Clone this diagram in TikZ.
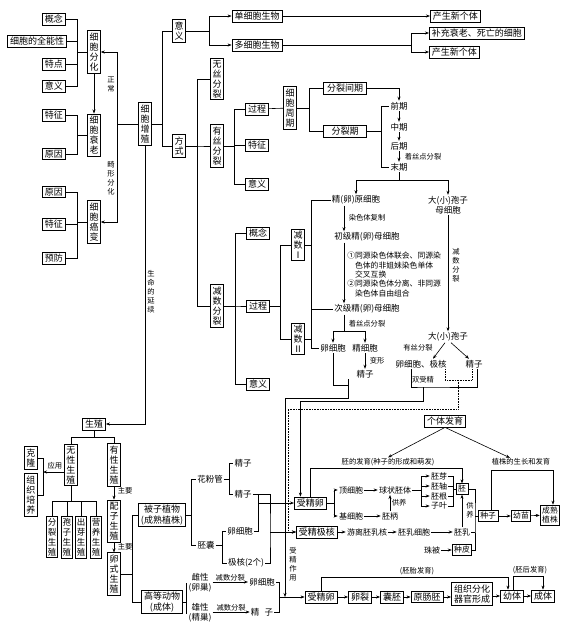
\documentclass[tikz,border=0pt]{standalone}
\usepackage{fontspec}
\setmainfont{Noto Sans CJK SC}
\usetikzlibrary{arrows.meta,calc}
\tikzset{
 >={Stealth[length=4pt,width=3pt]},
 bx/.style={draw, line width=0.8pt, fill=white, inner xsep=2.5pt, inner ysep=1.8pt, font=\fontsize{9}{10.5}\selectfont},
 sbx/.style={bx, inner xsep=2pt, font=\fontsize{7.8}{9}\selectfont},
 vb/.style={bx, align=center, inner xsep=1.8pt, inner ysep=2pt, font=\fontsize{9}{10}\selectfont},
 svb/.style={vb, inner xsep=1.3pt, font=\fontsize{8.5}{10}\selectfont},
 tx/.style={inner sep=1pt, font=\fontsize{8.5}{10}\selectfont},
 stx/.style={inner sep=1pt, font=\fontsize{8}{9.5}\selectfont},
 lb/.style={inner sep=0.5pt, font=\fontsize{7.3}{8.5}\selectfont},
 vl/.style={lb, align=center, font=\fontsize{7.3}{9}\selectfont},
}
\begin{document}
\begin{tikzpicture}[x=1pt,y=-1pt,line width=0.6pt]
\fill[white] (0,0) rectangle (573,625);
\useasboundingbox (0,0) rectangle (573,625);

% ---------- left column ----------
\node[bx] (gn1) at (54,19) {概念};
\node[bx] (qn) at (37,41) {细胞的全能性};
\node[bx] (td) at (54,64) {特点};
\node[bx] (yy1) at (54,86) {意义};
\node[vb] (fh) at (94,52) {细\\胞\\分\\化};
\node[bx] (tz1) at (54,115) {特征};
\node[bx] (yn1) at (54,154) {原因};
\node[vb] (sl) at (94,135) {细\\胞\\衰\\老};
\node[bx] (yn2) at (54,192) {原因};
\node[bx] (tz2) at (54,224) {特征};
\node[bx] (yf) at (54,258) {预防};
\node[vb] (ab) at (94,222) {细\\胞\\癌\\变};
\node[vb] (zz) at (145,124) {细\\胞\\增\\殖};

\foreach \c in {gn1,qn,td,yy1} \draw (fh.west) -- ++(-10,0) |- (\c.east);
\foreach \c in {tz1,yn1} \draw (sl.west) -- ++(-10,0) |- (\c.east);
\foreach \c in {yn2,tz2,yf} \draw (ab.west) -- ++(-10,0) |- (\c.east);
\draw[->] (fh) -- (sl);
\draw[->] (zz.west) -- ++(-21,0) |- (fh.east);
\draw[->] (zz.west) -- ++(-21,0) |- (ab.east);
\node[vl] at (111,84) {正\\常};
\node[vl] at (111,178) {畸\\形\\分\\化};

\node[bx] (sz) at (94,424) {生殖};
\draw[->] (zz.south) |- (sz.east);
\node[vl] at (151,292) {生\\命\\的\\延\\续};

% ---------- top ----------
\node[vb] (yy) at (179,31) {意\\义};
\node[vb] (fs) at (179,146) {方\\式};
\draw (zz.east) -- ++(11,0) |- (yy.west);
\draw (zz.east) -- ++(11,0) |- (fs.west);
\node[bx] (dx) at (257,16) {单细胞生物};
\node[bx] (dd) at (257,45) {多细胞生物};
\draw[->] (yy.east) -- ++(24,0) |- (dx.west);
\draw[->] (yy.east) -- ++(24,0) |- (dd.west);
\node[bx,anchor=west] (xg1) at (430,16) {产生新个体};
\node[bx,anchor=west] (bc) at (429,33) {补充衰老、死亡的细胞};
\node[bx,anchor=west] (xg2) at (429,52) {产生新个体};
\draw[->] (dx) -- (xg1);
\draw[->] (dd.east) -- ++(129,0) |- (bc.west);
\draw[->] (dd.east) -- ++(129,0) |- (xg2.west);

% ---------- mitosis ----------
\node[vb] (ws) at (217,79) {无\\丝\\分\\裂};
\node[vb] (ys) at (217,146) {有\\丝\\分\\裂};
\node[vb] (js) at (217,306) {减\\数\\分\\裂};
\foreach \c in {ws,ys,js} \draw (fs.east) -- ++(12,0) |- (\c.west);
\node[bx] (gc) at (257,109) {过程};
\node[bx] (tz) at (257,145) {特征};
\node[bx] (yi) at (257,184) {意义};
\foreach \c in {gc,tz,yi} \draw (ys.east) -- ++(11,0) |- (\c.west);
\node[vb] (zq) at (290,108) {细\\胞\\周\\期};
\draw (gc) -- (zq);
\node[bx,minimum width=43pt] (jq) at (345,88) {分裂间期};
\node[bx,minimum width=43pt] (lq) at (345,131) {分裂期};
\foreach \c in {jq,lq} \draw (zq.east) -- ++(13,0) |- (\c.west);
\node[tx] (qq) at (399,106) {前期};
\node[tx] (zh) at (399,127) {中期};
\node[tx] (hq) at (399,146) {后期};
\node[tx] (mq) at (399,167) {末期};
\draw[->] (jq.east) -| (qq.north);
\draw (lq.east) -- ++(14,0) |- (qq.west);
\draw (lq.east) -- ++(14,0) |- (mq.west);
\draw[->] (qq) -- (zh);
\draw[->] (zh) -- (hq);
\draw[->] (hq) -- (mq) node[midway,right=5pt,lb] {着丝点分裂};
\node[tx] (jy) at (356,200) {精(卵)原细胞};
\node[tx,align=center] (dm) at (448,205) {大(小)孢子\\母细胞};
\draw[->] (mq.south) -- ++(0,8) -| (jy.north);
\draw[->] (mq.south) -- ++(0,8) -| (dm.north);

% ---------- meiosis ----------
\node[bx] (gn) at (258,233) {概念};
\node[bx] (gcc) at (258,306) {过程};
\node[bx] (yyy) at (258,384) {意义};
\foreach \c in {gn,gcc,yyy} \draw (js.east) -- ++(12,0) |- (\c.west);
\node[vb] (j1) at (298,245) {减\\数\\Ⅰ};
\node[vb] (j2) at (298,339) {减\\数\\Ⅱ};
\foreach \c in {j1,j2} \draw (gcc.east) -- ++(10,0) |- (\c.west);
\node[tx] (cj) at (367,237) {初级精(卵)母细胞};
\node[tx] (cs) at (367,309) {次级精(卵)母细胞};
\draw (j1.east) -- ++(7,0) |- (jy.west);
\draw (j1.east) -- ++(7,0) |- (cs.west);
\node[tx] (ld) at (333,348) {卵细胞};
\node[tx] (jx) at (365,348) {精细胞};
\draw (j2.east) -- ++(7,0) |- (cs.west);
\draw (j2.east) -- ++(7,0) |- (ld.west);

\path ([xshift=-12pt]jy.south) coordinate (a1);
\draw[->] (a1) -- (a1 |- cj.north);
\node[lb,anchor=west] at (348,218) {染色体复制};
\path ([xshift=-23pt]cj.south) coordinate (a2);
\draw[->] (a2) -- (a2 |- cs.north);
\node[anchor=north west,align=left,inner sep=0pt,font=\fontsize{7.8}{9.3}\selectfont] (bk) at (347,252)
 {①同源染色体联会、同源染\\\phantom{①}色体的非姐妹染色单体\\\phantom{①}交叉互换\\②同源染色体分离、非同源\\\phantom{②}染色体自由组合};
\path ([xshift=-23pt]cs.south) coordinate (a3);
\draw (a3) -- ++(0,17) coordinate (m2);
\draw[->] (m2) -| (ld.north);
\draw[->] (m2) -| (jx.north);
\node[lb,anchor=west] at (348,324) {着丝点分裂};
\node[tx] (jz) at (365,374) {精子};
\draw[->] (jx) -- (jz);
\node[lb,anchor=west] at (369,361) {变形};
\coordinate (ja) at (348,385);
\draw (ld.south) |- (ja);
\draw (jz.south -| ja) -- (ja);
\coordinate (sa) at (285,597);
\draw[->] (ja) -- ++(0,13) -| (sa);

% ---------- plant meiosis ----------
\node[tx] (bz) at (448,337) {大(小)孢子};
\draw[->] (dm) -- (bz);
\node[vl] at (456,265) {减\\数\\分\\裂};
\node[tx] (lj) at (421,364) {卵细胞、极核};
\node[tx] (jp) at (474,364) {精子};
\draw[->] ([xshift=-3pt]bz.south) -- ([xshift=12pt]lj.north);
\draw[->] ([xshift=3pt]bz.south) -- ([xshift=-5pt]jp.north);
\node[lb] at (418,348) {有丝分裂};
\node[lb] at (423,380) {双受精};
\coordinate (sb) at (423,387);
\draw ([xshift=-10pt]lj.south) |- (sb) -| ([xshift=3pt]jp.south);
\coordinate (dj) at (458,380);
\draw[densely dotted] ([xshift=24pt]lj.south) |- (dj) -| ([xshift=-2pt]jp.south);

% ---------- individual development ----------
\node[bx] (gt) at (445,421) {个体发育};
\node[lb] (pl1) at (388,462) {胚的发育(种子的形成和萌发)};
\node[lb] (pl2) at (521,462) {植株的生长和发育};
\draw[->] (gt.south) -- (pl1.north);
\draw[->] (gt.south) -- ([xshift=-11pt]pl2.north);

% ---------- reproduction ----------
\node[vb] (wx) at (71,465) {无\\性\\生\\殖};
\node[vb] (yx) at (114,465) {有\\性\\生\\殖};
\draw (sz.south) -- ++(0,7) -| (wx.north);
\draw (sz.south) -- ++(0,7) -| (yx.north);
\node[vb] (kl) at (31,458) {克\\隆};
\node[vb] (zpy) at (31,495) {组\\织\\培\\养};
\coordinate (kb) at (43,472);
\draw (kl.east) -| (kb);
\draw (zpy.east) -| (kb);
\draw[->] ([yshift=-7pt]wx.west) -- (kb);
\node[lb] at (55,466) {应用};
\node[svb] (f1) at (52,537) {分\\裂\\生\\殖};
\node[svb] (f2) at (67,537) {孢\\子\\生\\殖};
\node[svb] (f3) at (81,537) {出\\芽\\生\\殖};
\node[svb] (f4) at (96,537) {营\\养\\生\\殖};
\foreach \c in {f1,f2,f3,f4} \draw (wx.south) -- ++(0,15) -| (\c.north);
\node[vb] (pz3) at (114,521) {配\\子\\生\\殖};
\node[vb] (ls) at (114,574) {卵\\式\\生\\殖};
\draw[->] (yx) -- (pz3);
\draw[->] (pz3) -- (ls);
\node[lb,anchor=west] at (117,491) {主要};
\node[lb,anchor=west] at (117,547) {主要};

\node[bx,align=center] (bz2) at (162,515) {被子植物\\(成熟植株)};
\node[bx,align=center] (gd) at (162,602) {高等动物\\(成体)};
\draw (ls.east) -- ++(12,0) |- (bz2.west);
\draw (ls.east) -- ++(12,0) |- (gd.west);

% plant fertilisation
\node[tx] (hf) at (210,479) {花粉管};
\node[tx] (pn) at (206,545) {胚囊};
\draw (bz2.east) -- ++(5,0) |- (hf.west);
\draw (bz2.east) -- ++(5,0) |- (pn.west);
\node[tx] (s1) at (243,463) {精子};
\node[tx] (s2) at (243,494) {精子};
\draw (hf.east) -- ++(5,0) |- (s1.west);
\draw (hf.east) -- ++(5,0) |- (s2.west);
\node[tx] (lx) at (240,531) {卵细胞};
\node[tx] (jh) at (246,563) {极核(2个)};
\draw (pn.east) -- ++(6,0) |- (lx.west);
\draw (pn.east) -- ++(6,0) |- (jh.west);
\node[bx,anchor=west] (pz) at (294,503) {受精卵};
\node[bx,anchor=west] (pj) at (296,532) {受精极核};
\coordinate (p1) at (258,503);
\coordinate (p1t) at (258,494);
\coordinate (p2) at (270,532);
\draw (s2.east) -| (p2) |- (jh.east);
\draw (lx.east) -| (p1t);
\draw[->] (p1) -- (pz.west);
\draw[->] (p2) -- (pj.west);
\draw[->] (sb) -- ++(0,14) -| ([xshift=-10pt]pz.north);
\draw[densely dotted,->] (dj) -- (458,409) -- (288,409) |- (pj.west);

% animal
\node[tx,align=center] (ci) at (200,583) {雌性\\(卵巢)};
\node[tx,align=center] (xi) at (200,613) {雄性\\(精巢)};
\draw (gd.east) -- ++(3,0) |- (ci.west);
\draw (gd.east) -- ++(3,0) |- (xi.west);
\node[tx] (ll) at (262,582) {卵细胞};
\node[tx] (jj) at (262,612) {精\hspace{0.6em}子};
\draw[->] (ci.east |- ll) -- (ll.west) node[midway,above=0pt,lb] {减数分裂};
\draw[->] (xi.east |- jj) -- (jj.west) node[midway,above=0pt,lb] {减数分裂};
\coordinate (abj) at (279,597);
\draw (ll.east) -| (abj);
\draw (jj.east) -| (abj);
\node[bx] (az) at (321,597) {受精卵};
\draw[->] (abj) -- (az.west);
\node[vl] at (293,564) {受\\精\\作\\用};
\node[bx] (lk) at (360,597) {卵裂};
\node[bx] (np) at (392,597) {囊胚};
\node[bx] (yc) at (427,597) {原肠胚};
\node[bx,align=center] (zf) at (472,594) {组织分化\\器官形成};
\node[bx] (yt) at (512,596) {幼体};
\node[bx] (ct) at (543,596) {成体};
\draw[->] (az) -- (lk);
\draw[->] (lk) -- (np);
\draw[->] (np) -- (yc);
\draw[->] (yc.east) -- (yc.east -| zf.west);
\draw[->] (zf.east |- yt) -- (yt.west);
\draw[->] (yt) -- (ct);
\draw[->] (az.north) -- ++(0,-13) -| ([xshift=-4pt]yt.north);
\node[lb] at (417,571) {(胚胎发育)};
\draw[->] ([xshift=1pt]yt.north) -- ++(0,-13) -| (ct.north);
\node[lb] at (530,570) {(胚后发育)};

% plant embryo
\node[stx] (dx1) at (351,490) {顶细胞};
\node[stx] (jx1) at (351,516) {基细胞};
\draw[->] (pz.east) -- ++(7,0) |- (dx1.west);
\draw[->] (pz.east) -- ++(7,0) |- (jx1.west);
\node[stx] (qz) at (395,490) {球状胚体};
\node[stx] (pb) at (390,516) {胚柄};
\draw[->] (dx1) -- (qz);
\draw[->] (jx1) -- (pb);
\draw[->] (pb.north) -- (pb.north |- qz.south) node[midway,right=1pt,lb] {供养};
\node[stx] (e1) at (439,476) {胚芽};
\node[stx] (e2) at (439,486) {胚轴};
\node[stx] (e3) at (439,496) {胚根};
\node[stx] (e4) at (439,506) {子叶};
\foreach \c in {e1,e2,e3,e4} \draw[->] (qz.east) -- ++(9,0) |- (\c.west);
\node[sbx] (pei) at (462,489) {胚};
\coordinate (pe) at (453,489);
\foreach \c in {e1,e2,e3,e4} \draw (\c.east) -| (pe);
\draw (pe) -- (pei.west);
\node[stx] (yl) at (367,532) {游离胚乳核};
\node[stx] (pc) at (414,532) {胚乳细胞};
\node[stx] (pr) at (462,532) {胚乳};
\draw[->] (pj) -- (yl);
\draw[->] (yl) -- (pc);
\draw[->] (pc) -- (pr);
\draw[->] (pr) -- (pei);
\node[vl] at (470,510) {供\\养};
\node[stx] (zb) at (432,550) {珠被};
\node[sbx] (zpi) at (462,550) {种皮};
\draw[->] (zb) -- (zpi);
\draw[->] (pz.north) -- ++(0,-28) -| (pei.north);
\node[sbx,anchor=west] (zzi) at (478,516) {种子};
\coordinate (br) at (475,516);
\draw (pei.east) -| (br) |- (zpi.east);
\draw (pr.east) -- (pr.east -| br);
\draw (br) -- (zzi.west);
\node[sbx] (ym) at (521,516) {幼苗};
\node[sbx,align=center] (csz) at (550,515) {成熟\\植株};
\draw[->] (zzi) -- (ym);
\draw[->] (ym) -- (csz);
\coordinate (g1) at (553,470);
\draw[->] ([xshift=3pt]zzi.north) |- (g1) -- (g1 |- csz.north);
\end{tikzpicture}
\end{document}
